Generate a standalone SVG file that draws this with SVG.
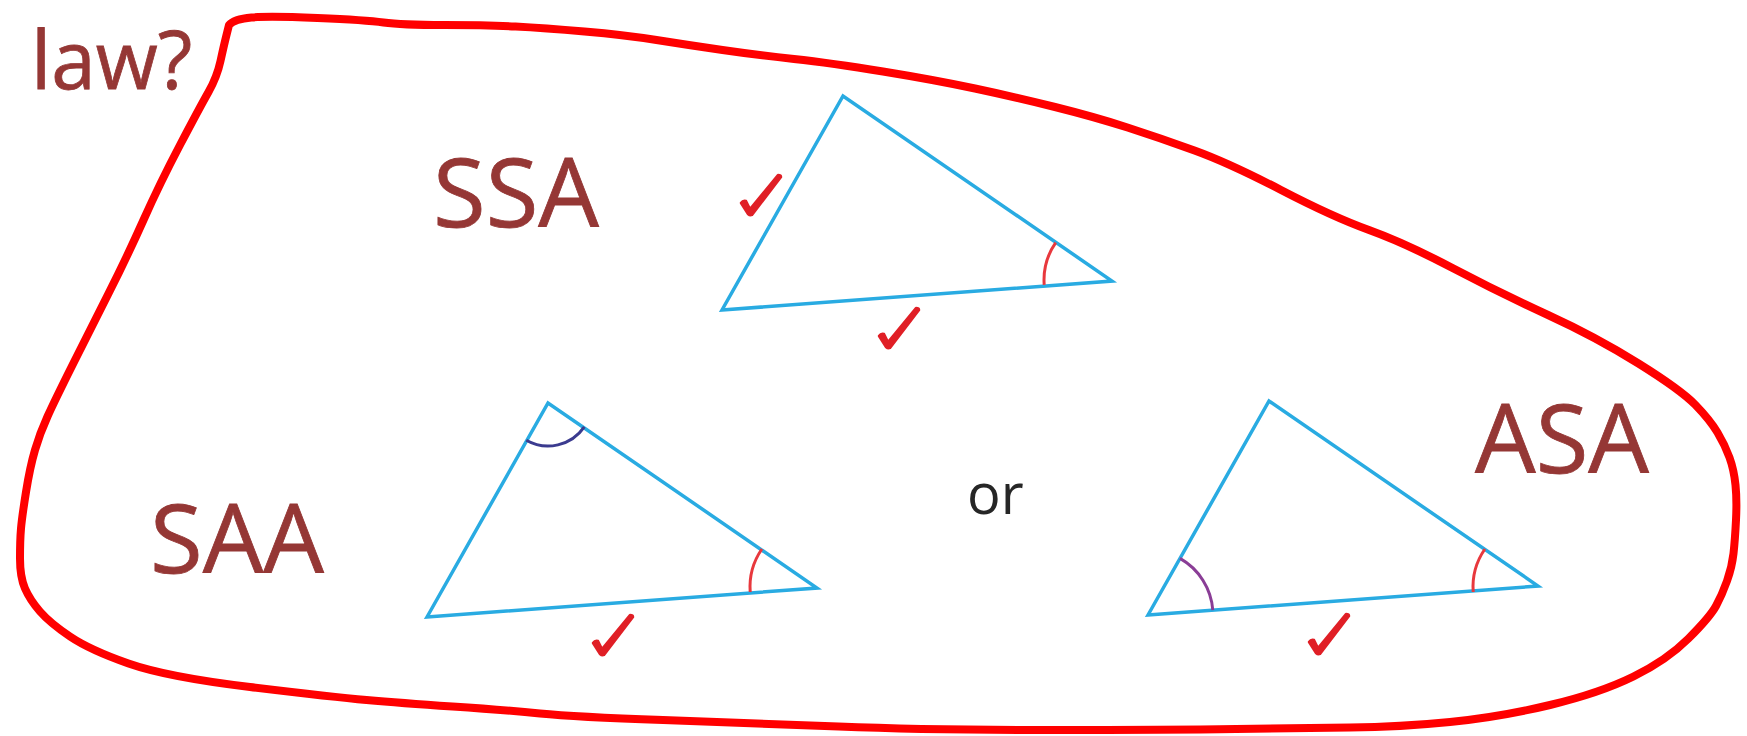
<svg xmlns="http://www.w3.org/2000/svg" width="1747" height="736" viewBox="0 0 1747 736">
<style>
.lbl{font-family:"Open Sans","Liberation Sans",sans-serif;fill:#953735;stroke:#953735;stroke-width:0.8}
.tri{fill:none;stroke:#29abe2;stroke-width:3.5;stroke-linejoin:miter}
.arcR{fill:none;stroke:#e8383d;stroke-width:3}
.chk{fill:#e01f26;stroke:#e01f26;stroke-width:2.5;stroke-linejoin:round}
.outline{fill:none;stroke:#ff0000;stroke-width:8;stroke-linejoin:round;stroke-linecap:round}
</style>
<defs>
<polygon id="triShape" class="tri" points="0,0 121,-214 390,-29"/>
<path id="check" class="chk" d="M-9,-11 Q-7,-14 -4,-13 L0,-5 L28,-39 Q31,-39 31,-37 L2,1 Q0,2 -2,0 Z"/>
</defs>
<rect width="1747" height="736" fill="#ffffff"/>
<g id="connectors">
<path id="outline" class="outline" d="M229,25 Q234,19 251.5,17.5 Q269,16 317.5,18 Q366,20 383.5,22.5 Q401,25 444,25 Q487,25 515.5,26.5 Q544,28 584.5,31.5 Q625,35 656.5,40 Q688,45 722.5,50 Q757,55 794,59 Q831,63 883,71.5 Q935,80 975,88.5 Q1015,97 1055,107 Q1095,117 1127.5,127.5 Q1160,138 1194.5,150.5 Q1229,163 1281,190 Q1333,217 1369,230 Q1405,243 1452.5,268 Q1500,293 1548,315 Q1596,337 1638.5,363.5 Q1681,390 1695.5,405 Q1710,420 1717.5,432.5 Q1725,445 1729.5,457.5 Q1734,470 1735.5,485 Q1737,500 1736,520 Q1735,540 1733.5,553.5 Q1732,567 1727,581 Q1722,595 1716,606 Q1710,617 1688.5,638.5 Q1667,660 1633.5,676.5 Q1600,693 1550,705 Q1500,717 1450,722 Q1400,727 1350,727.5 Q1300,728 1236,729 Q1172,730 1049,730 Q926,730 838.5,726.5 Q751,723 663,720 Q575,717 540,713.5 Q505,710 452.5,706.5 Q400,703 366.5,700 Q333,697 250,687 Q167,677 128.5,663.5 Q90,650 70,636.5 Q50,623 40,611.5 Q30,600 25,588.5 Q20,577 20,558.5 Q20,540 21,528.5 Q22,517 26,492 Q30,467 35,450 Q40,433 47.5,416.5 Q55,400 72.5,365 Q90,330 108.5,293.5 Q127,257 143.5,220 Q160,183 180,145 Q200,107 208.5,92 Q217,77 220.5,61 Q224,45 226.5,35 L229,25 Z"/>
</g>
<g id="label-law">
<text class="lbl" x="31" y="89" font-size="80">law?</text>
</g>
<g id="node-SSA">
<text class="lbl" x="433" y="227" font-size="96">SSA</text>
<use href="#triShape" transform="translate(722,310)"/>
<path class="arcR" d="M1055.7,242.6 A66,66 0 0 0 1044.2,284.9"/>
<use href="#check" transform="translate(750,214)"/>
<use href="#check" transform="translate(888,347)"/>
</g>
<g id="node-SAA">
<text class="lbl" x="150" y="573" font-size="96">SAA</text>
<use href="#triShape" transform="translate(427,617)"/>
<path fill="none" stroke="#3b3b8f" stroke-width="3" d="M526.3,440.3 A44,44 0 0 0 584.3,426.9"/>
<path class="arcR" d="M761.9,549.0 A67,67 0 0 0 750.2,592.0"/>
<use href="#check" transform="translate(602,654)"/>
</g>
<g id="node-or">
<text x="967" y="514" font-size="56" font-family="'Open Sans','Liberation Sans',sans-serif" fill="#262626">or</text>
</g>
<g id="node-ASA">
<text class="lbl" x="1475" y="473" font-size="96">ASA</text>
<use href="#triShape" transform="translate(1148,615)"/>
<path fill="none" stroke="#8a3d96" stroke-width="3" d="M1180,558.4 A65,65 0 0 1 1212.8,610.2"/>
<path class="arcR" d="M1484.9,549.0 A67,67 0 0 0 1473.2,592.0"/>
<use href="#check" transform="translate(1318,653)"/>
</g>
</svg>
